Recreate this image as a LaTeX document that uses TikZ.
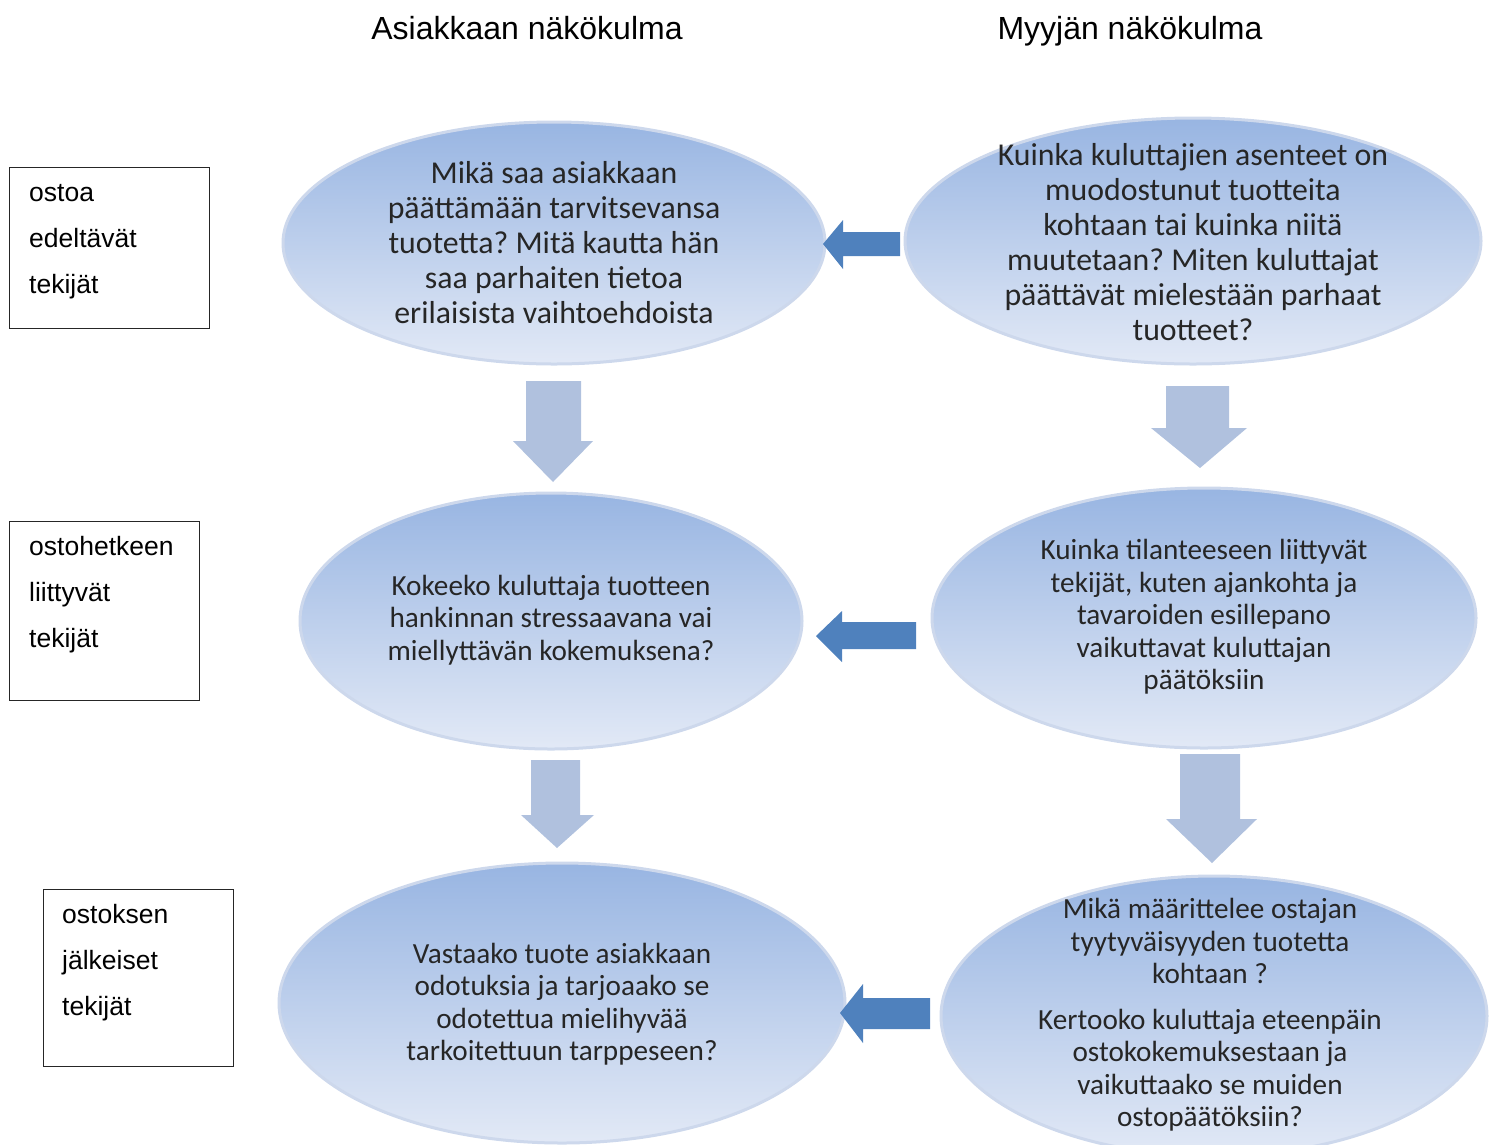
\documentclass[tikz,border=0pt]{standalone}
\usepackage{fontspec}
\setmainfont{Liberation Sans}
\newfontfamily\calib{Carlito}
\usetikzlibrary{shapes.geometric}
\definecolor{bubbletop}{RGB}{152,181,226}
\definecolor{bubblebot}{RGB}{226,233,246}
\definecolor{bubbleline}{RGB}{205,216,236}
\definecolor{darkarrow}{RGB}{79,129,189}
\definecolor{lightarrow}{RGB}{176,193,222}
\frenchspacing
\begin{document}
\begin{tikzpicture}[x=1pt,y=-1pt,
  bubble/.style={ellipse, draw=bubbleline, line width=3pt, top color=bubbletop, bottom color=bubblebot, inner sep=0pt},
  btext/.style={align=center, inner sep=0pt, text=black!85, font=\calib\fontsize{31.8}{35}\selectfont},
  btextsmall/.style={align=center, inner sep=0pt, text=black!85, font=\calib\fontsize{29.2}{32.5}\selectfont},
  lbox/.style={draw=black!85, line width=1.3pt, inner sep=0pt, anchor=north west},
  ltext/.style={anchor=base west, inner sep=0pt, font=\fontsize{26.5}{30}\selectfont},
  head/.style={anchor=base, inner sep=0pt, font=\fontsize{32}{38}\selectfont},
  larrow/.style={fill=darkarrow},
  darrow/.style={fill=lightarrow}]
\useasboundingbox (0,0) rectangle (1496,1144);

% headers
\node[head] (h1) at (527,39) {Asiakkaan näkökulma};
\node[head] (h2) at (1130,39) {Myyjän näkökulma};

% left label boxes
\node[lbox, minimum width=200, minimum height=161] (b1) at (9,167) {};
\node[ltext] (b1a) at (29,201) {ostoa};
\node[ltext] (b1b) at (29,247) {edeltävät};
\node[ltext] (b1c) at (29,293) {tekijät};

\node[lbox, minimum width=190, minimum height=179] (b2) at (9,521) {};
\node[ltext] (b2a) at (29,555) {ostohetkeen};
\node[ltext] (b2b) at (29,601) {liittyvät};
\node[ltext] (b2c) at (29,647) {tekijät};

\node[lbox, minimum width=190, minimum height=177] (b3) at (43,889) {};
\node[ltext] (b3a) at (62,923) {ostoksen};
\node[ltext] (b3b) at (62,969) {jälkeiset};
\node[ltext] (b3c) at (62,1015) {tekijät};

% ellipses
\node[bubble, minimum width=542, minimum height=242] (e1) at (554,243) {};
\node[bubble, minimum width=576, minimum height=246] (e2) at (1193,241) {};
\node[bubble, minimum width=502, minimum height=256] (e3) at (551,621) {};
\node[bubble, minimum width=544, minimum height=260] (e4) at (1204,618) {};
\node[bubble, minimum width=566, minimum height=280] (e5) at (562,1003) {};
\node[bubble, minimum width=546, minimum height=280] (e6) at (1214,1016) {};

% ellipse texts
\node[btext] (t1) at (e1.center) {Mikä saa asiakkaan\\päättämään tarvitsevansa\\tuotetta? Mitä kautta hän\\saa parhaiten tietoa\\erilaisista vaihtoehdoista};
\node[btext] (t2) at (1193,242) {Kuinka kuluttajien asenteet on\\muodostunut tuotteita\\kohtaan tai kuinka niitä\\muutetaan? Miten kuluttajat\\päättävät mielestään parhaat\\tuotteet?};
\node[btextsmall] (t3) at (551,620) {Kokeeko kuluttaja tuotteen\\hankinnan stressaavana vai\\miellyttävän kokemuksena?};
\node[btextsmall] (t4) at (1204,617) {Kuinka tilanteeseen liittyvät\\tekijät, kuten ajankohta ja\\tavaroiden esillepano\\vaikuttavat kuluttajan\\päätöksiin};
\node[btextsmall] (t5) at (562,1004) {Vastaako tuote asiakkaan\\odotuksia ja tarjoaako se\\odotettua mielihyvää\\tarkoitettuun tarppeseen?};
\node[btextsmall] (t6) at (1210,1015) {Mikä määrittelee ostajan\\tyytyväisyyden tuotetta\\kohtaan ?\\[13pt]Kertooko kuluttaja eteenpäin\\ostokokemuksestaan ja\\vaikuttaako se muiden\\ostopäätöksiin?};

% horizontal block arrows (seller -> customer)
\fill[larrow] (900,232) -- (843,232) -- (843,220) -- (823,244) -- (843,269) -- (843,256) -- (900,256) -- cycle;
\fill[larrow] (916,622) -- (842,622) -- (842,611) -- (816,636) -- (842,662) -- (842,649) -- (916,649) -- cycle;
\fill[larrow] (930,998) -- (863,998) -- (863,984) -- (840,1013) -- (863,1043) -- (863,1029) -- (930,1029) -- cycle;

% vertical block arrows
\fill[darrow] (526,381) -- (581,381) -- (581,441) -- (593,441) -- (553,482) -- (513,441) -- (526,441) -- cycle;
\fill[darrow] (1166,386) -- (1229,386) -- (1229,428) -- (1247,428) -- (1200,468) -- (1151,428) -- (1166,428) -- cycle;
\fill[darrow] (531,760) -- (580,760) -- (580,815) -- (594,815) -- (557,848) -- (521,815) -- (531,815) -- cycle;
\fill[darrow] (1180,754) -- (1240,754) -- (1240,819) -- (1257,819) -- (1212,863) -- (1166,819) -- (1180,819) -- cycle;
\end{tikzpicture}
\end{document}
